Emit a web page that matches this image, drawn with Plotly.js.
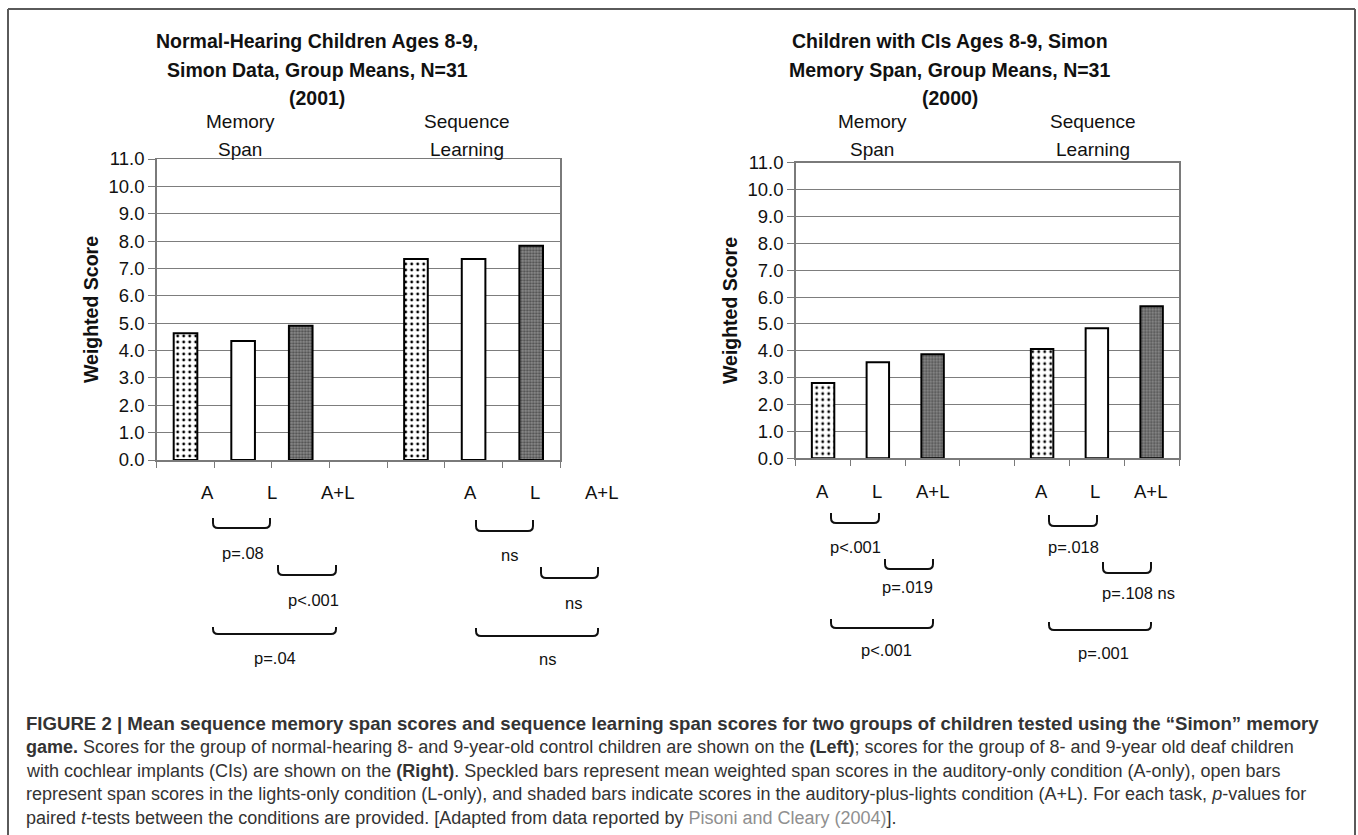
<!DOCTYPE html>
<html>
<head>
<meta charset="utf-8">
<script src="https://cdn.plot.ly/plotly-3.0.1.min.js"></script>
<style>html,body{margin:0;padding:0;background:#fff;}#chart{width:1358px;height:835px;}</style>
</head>
<body>
<div id="chart"></div>
<script>
// ---------------- DATA ----------------
const conditions = ['A', 'L', 'A+L'];
const tasks = ['Memory Span', 'Sequence Learning'];
const nhMemory = [4.63, 4.35, 4.91];     // Normal-hearing, memory span
const nhSequence = [7.35, 7.35, 7.83];   // Normal-hearing, sequence learning
const ciMemory = [2.80, 3.57, 3.87];     // CI children, memory span
const ciSequence = [4.07, 4.84, 5.66];   // CI children, sequence learning
const yTickVals = [0, 1, 2, 3, 4, 5, 6, 7, 8, 9, 10, 11];
const nhTitle = ['Normal-Hearing Children Ages 8-9,', 'Simon Data, Group Means, N=31', '(2001)'];
const ciTitle = ['Children with CIs Ages 8-9, Simon', 'Memory Span, Group Means, N=31', '(2000)'];
const nhMemP = ['p=.08', 'p<.001', 'p=.04'];
const nhSeqP = ['ns', 'ns', 'ns'];
const ciMemP = ['p<.001', 'p=.019', 'p<.001'];
const ciSeqP = ['p=.018', 'p=.108 ns', 'p=.001'];
const yTitle = 'Weighted Score';

// ---------------- HELPERS ----------------
const W = 1358, H = 835;
const X = px => px / W;
const Y = py => 1 - py / H;
const FONT = 'Liberation Sans, Arial, sans-serif';

// category slots: 3 conditions, a gap, 3 conditions
const slots = [];
tasks.forEach((t, ti) => {
  conditions.forEach(c => slots.push(t + ' | ' + c));
  if (ti === 0) slots.push('gap');
});

// bar fill styles per condition: speckled, open, shaded
const fills = [
  {color: '#ffffff', pattern: {shape: '.', fgcolor: '#000000', bgcolor: '#ffffff', size: 6, solidity: 0.17, fillmode: 'replace'}},
  {color: '#ffffff'},
  {color: '#7a7a7a', pattern: {shape: '.', fgcolor: '#4e4e4e', bgcolor: '#8c8c8c', size: 3, solidity: 0.45, fillmode: 'replace'}}
];

const data = [];
function addChart(mem, seq, xa, ya) {
  conditions.forEach((c, ci) => {
    const m = Object.assign({line: {color: '#000', width: 2}}, fills[ci]);
    data.push({
      type: 'bar', name: c, x: tasks.map(t => t + ' | ' + c), y: [mem[ci], seq[ci]],
      xaxis: xa, yaxis: ya, width: 0.41, marker: m, showlegend: false, hoverinfo: 'x+y'
    });
  });
}
addChart(nhMemory, nhSequence, 'x', 'y');
addChart(ciMemory, ciSequence, 'x2', 'y2');

function xAxis(domain, anchor) {
  return {
    domain: domain, anchor: anchor, type: 'category', categoryorder: 'array', categoryarray: slots,
    range: [-0.5, slots.length - 0.5], tickson: 'boundaries', ticks: 'outside', ticklen: 6,
    tickcolor: '#7a7a7a', showticklabels: false, showline: true, mirror: true,
    linecolor: '#7a7a7a', linewidth: 1.5, showgrid: false, zeroline: false, fixedrange: true
  };
}
function yAxis(domain, anchor) {
  return {
    domain: domain, anchor: anchor, range: [0, 11], tickvals: yTickVals, tickformat: '.1f',
    ticks: 'outside', ticklen: 7, tickcolor: '#7a7a7a', showline: true, mirror: true,
    linecolor: '#7a7a7a', linewidth: 1.5, gridcolor: '#7d7d7d', gridwidth: 1, zeroline: false,
    tickfont: {family: FONT, size: 18.5, color: '#111'},
    title: {text: yTitle, standoff: 4, font: {family: FONT, size: 19.5, color: '#111', weight: 'bold'}},
    fixedrange: true
  };
}

const annotations = [];
const shapes = [];
function txt(text, x, y, size, opts) {
  annotations.push(Object.assign({
    text: text, xref: 'paper', yref: 'paper', x: X(x), y: Y(y), xanchor: 'center', yanchor: 'middle',
    showarrow: false, font: {family: FONT, size: size, color: '#111'}
  }, opts || {}));
}

// chart titles
const titleRows = [41, 70, 98];
nhTitle.forEach((t, i) => txt('<b>' + t + '</b>', 317, titleRows[i], 19.5));
ciTitle.forEach((t, i) => txt('<b>' + t + '</b>', 950, titleRows[i], 19.5));

// task headers
const headRows = [122, 150];
function header(task, cx) {
  task.split(' ').forEach((w, i) => txt(w, cx, headRows[i], 19));
}
header(tasks[0], 240); header(tasks[1], 467);
header(tasks[0], 872); header(tasks[1], 1093);

// condition labels below axis
function condLabels(xs, y) { conditions.forEach((c, i) => txt(c, xs[i], y, 18.5)); }
condLabels([207, 272, 337], 492); condLabels([470, 535, 601], 492);
condLabels([823, 877, 932], 491); condLabels([1041, 1095, 1150], 491);

// significance brackets
function bracket(x1, x2, top, bottom) {
  const r = 5;
  const p = 'M' + X(x1) + ',' + Y(top) + ' L' + X(x1) + ',' + Y(bottom - r) +
    ' Q' + X(x1) + ',' + Y(bottom) + ' ' + X(x1 + r) + ',' + Y(bottom) +
    ' L' + X(x2 - r) + ',' + Y(bottom) +
    ' Q' + X(x2) + ',' + Y(bottom) + ' ' + X(x2) + ',' + Y(bottom - r) +
    ' L' + X(x2) + ',' + Y(top);
  shapes.push({type: 'path', xref: 'paper', yref: 'paper', path: p, line: {color: '#111', width: 2}});
}
function comparisons(spans, tops, depths, labels, labelX, labelY) {
  spans.forEach((s, i) => {
    bracket(s[0], s[1], tops[i], tops[i] + depths[i]);
    txt(labels[i], labelX[i], labelY[i], 16.5);
  });
}
comparisons([[213, 270], [278, 336], [213, 336]], [518, 565, 627], [10, 10, 7], nhMemP, [243, 313, 275], [553, 600, 658]);
comparisons([[476, 533], [541, 598], [476, 598]], [520, 567, 628], [11, 11, 8], nhSeqP, [509, 573, 547], [555, 603, 659]);
comparisons([[831, 879], [885, 933], [831, 933]], [513, 559, 619], [10, 10, 9], ciMemP, [855, 908, 886], [547, 587, 650]);
comparisons([[1049, 1097], [1103, 1151], [1049, 1151]], [515, 562, 622], [11, 11, 8], ciSeqP, [1073, 1138, 1103], [547, 593, 653]);

// figure frame
[[8, 9, 1355, 9], [8, 9, 8, 835], [1355, 9, 1355, 835]].forEach(l => shapes.push({
  type: 'line', xref: 'paper', yref: 'paper', x0: X(l[0]), y0: Y(l[1]), x1: X(l[2]), y1: Y(l[3]),
  line: {color: '#5a5a5a', width: 2}
}));

// caption
const capRows = [723, 747, 771, 794, 818];
const capSizes = [18.6, 18, 18, 18, 18];
const capLines = [
  '<b>FIGURE 2 | Mean sequence memory span scores and sequence learning span scores for two groups of children tested using the “Simon” memory</b>',
  '<b>game.</b> Scores for the group of normal-hearing 8- and 9-year-old control children are shown on the <b>(Left)</b>; scores for the group of 8- and 9-year old deaf children',
  'with cochlear implants (CIs) are shown on the <b>(Right)</b>. Speckled bars represent mean weighted span scores in the auditory-only condition (A-only), open bars',
  'represent span scores in the lights-only condition (L-only), and shaded bars indicate scores in the auditory-plus-lights condition (A+L). For each task, <i>p</i>-values for',
  'paired <i>t</i>-tests between the conditions are provided. [Adapted from data reported by <span style="color:#8f8f8f">Pisoni and Cleary (2004)</span>].'
];
capLines.forEach((t, i) => txt(t, 24, capRows[i], capSizes[i], {xanchor: 'left', font: {family: FONT, size: capSizes[i], color: '#333'}}));

const layout = {
  width: W, height: H, margin: {l: 0, r: 0, t: 0, b: 0},
  paper_bgcolor: '#fff', plot_bgcolor: '#fff',
  xaxis: xAxis([X(156.7), X(560)], 'y'),
  yaxis: yAxis([Y(460), Y(159)], 'x'),
  xaxis2: xAxis([X(795.7), X(1179)], 'y2'),
  yaxis2: yAxis([Y(458.3), Y(162.7)], 'x2'),
  barmode: 'overlay', bargap: 0, annotations: annotations, shapes: shapes, showlegend: false
};

Plotly.newPlot('chart', data, layout, {displayModeBar: false, staticPlot: true});
</script>
</body>
</html>
